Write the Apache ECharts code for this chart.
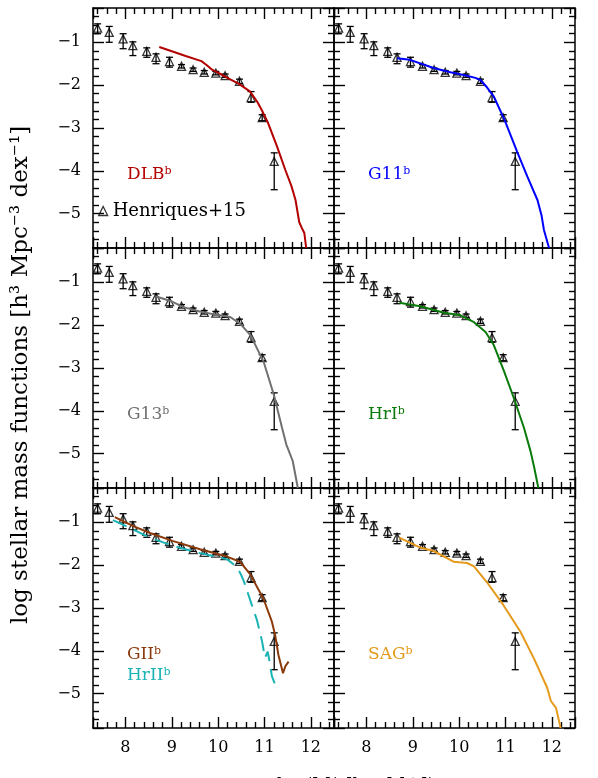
<!DOCTYPE html>
<html><head><meta charset="utf-8">
<script src="https://cdn.jsdelivr.net/npm/echarts@6/dist/echarts.min.js"></script>
<style>html,body{margin:0;padding:0;background:#fff}#c{width:598px;height:778px}</style>
</head><body><div id="c"></div>
<script>
// ---- Observations: Henriques+15 (log M*, log phi, upper, lower) ----
const obsX  = [7.40, 7.65, 7.95, 8.16, 8.46, 8.66, 8.95, 9.21, 9.46, 9.70, 9.95, 10.15, 10.46, 10.71, 10.95, 11.21];
const obsY  = [-0.67, -0.77, -0.92, -1.08, -1.21, -1.35, -1.45, -1.56, -1.64, -1.70, -1.72, -1.78, -1.91, -2.29, -2.76, -3.78];
const obsHi = [-0.57, -0.63, -0.80, -0.99, -1.13, -1.27, -1.35, -1.52, -1.60, -1.66, -1.68, -1.74, -1.86, -2.15, -2.69, -3.58];
const obsLo = [-0.80, -1.00, -1.15, -1.31, -1.35, -1.50, -1.58, -1.60, -1.68, -1.74, -1.76, -1.82, -1.96, -2.40, -2.83, -4.44];

// ---- Model curves [log M*, log phi] ----
const dlb = [[8.73,-1.11],[9.0,-1.21],[9.3,-1.32],[9.64,-1.44],[9.75,-1.53],[9.87,-1.64],[10.05,-1.74],[10.22,-1.84],[10.45,-1.97],[10.69,-2.15],[10.85,-2.40],[10.94,-2.58],[11.08,-2.89],[11.27,-3.43],[11.45,-3.98],[11.58,-4.35],[11.67,-4.68],[11.75,-5.20],[11.80,-5.32],[11.86,-5.45],[11.90,-5.8]];
const g11 = [[8.66,-1.37],[8.94,-1.41],[9.45,-1.60],[9.81,-1.70],[10.17,-1.78],[10.35,-1.83],[10.46,-1.88],[10.60,-2.05],[10.75,-2.27],[10.98,-2.81],[11.25,-3.55],[11.47,-4.13],[11.69,-4.68],[11.78,-5.05],[11.83,-5.38],[11.94,-5.8]];
const g13 = [[8.66,-1.33],[8.96,-1.43],[9.25,-1.58],[9.6,-1.68],[9.97,-1.76],[10.26,-1.81],[10.48,-1.97],[10.70,-2.24],[10.98,-2.85],[11.20,-3.62],[11.38,-4.40],[11.47,-4.78],[11.50,-4.80],[11.61,-5.17],[11.69,-5.63],[11.72,-5.8]];
const hrI = [[8.71,-1.48],[9.16,-1.56],[9.67,-1.71],[10.03,-1.77],[10.32,-1.93],[10.57,-2.16],[10.75,-2.47],[10.97,-3.08],[11.18,-3.70],[11.40,-4.40],[11.54,-4.94],[11.62,-5.32],[11.70,-5.75],[11.71,-5.8]];
const gII = [[7.77,-0.88],[8.17,-1.09],[8.53,-1.25],[9.03,-1.44],[9.61,-1.63],[10.19,-1.80],[10.47,-1.92],[10.69,-2.21],[10.98,-2.79],[11.16,-3.32],[11.23,-3.63],[11.30,-4.09],[11.40,-4.52],[11.45,-4.36],[11.52,-4.25]];
const hrII = [[7.73,-0.95],[8.17,-1.17],[8.53,-1.36],[9.03,-1.55],[9.61,-1.72],[10.19,-1.86],[10.33,-1.98],[10.47,-2.17],[10.55,-2.36],[10.73,-2.94],[10.84,-3.29],[10.95,-3.79],[11.00,-4.10],[11.01,-4.16],[11.07,-4.02],[11.10,-4.20],[11.16,-4.59],[11.27,-4.90]];
const sag = [[8.71,-1.36],[9.16,-1.59],[9.45,-1.67],[9.88,-1.92],[10.17,-1.95],[10.32,-2.03],[10.60,-2.40],[10.96,-2.94],[11.32,-3.55],[11.61,-4.17],[11.90,-4.86],[11.98,-5.17],[12.09,-5.33],[12.18,-5.75],[12.19,-5.8]];

const xRange = [7.3, 12.5];
const yRange = [-5.8, -0.2];
const yTitle = 'log stellar mass functions [h\u00B3 Mpc\u207B\u00B3 dex\u207B\u00B9]';
const xTitle = 'log(M* [h\u207B\u00B9 M\u2609])';
const obsName = 'Henriques+15';

const panels = [
  {models: [{name: 'DLB', data: dlb, color: '#b30000'}]},
  {models: [{name: 'G11', data: g11, color: '#0000ff'}]},
  {models: [{name: 'G13', data: g13, color: '#707070'}]},
  {models: [{name: 'HrI', data: hrI, color: '#0a7a0a'}]},
  {models: [{name: 'GII', data: gII, color: '#8b3a0c'}, {name: 'HrII', data: hrII, color: '#1ab3b3', dash: true}]},
  {models: [{name: 'SAG', data: sag, color: '#e59a1c'}]}
];

const FONT = 'DejaVu Serif';
const GL = 93, GT = 8, GW = 241, GH = 240;

const grids = [], xAxes = [], yAxes = [], series = [], titles = [];
const tickStyle = {color: '#000', width: 1.4};
function fmtInt(v) {
  const r = Math.round(v);
  if (Math.abs(v - r) > 1e-6) return '';
  return r < 0 ? '\u2212' + Math.abs(r) : String(r);
}
function axisBase(min, max, showLabel, margin) {
  return {
    type: 'value', min: min, max: max, splitNumber: 5,
    axisLine: {show: true, onZero: false, lineStyle: {color: '#000', width: 1.5}},
    axisTick: {show: true, inside: true, length: 11, lineStyle: tickStyle},
    minorTick: {show: true, splitNumber: 5, length: 6, lineStyle: tickStyle},
    splitLine: {show: false},
    axisLabel: {show: showLabel, formatter: fmtInt, color: '#000', fontFamily: FONT, fontSize: 16, margin: margin,
                showMinLabel: true, showMaxLabel: true}
  };
}

const obsPts = obsX.map((x, i) => [x, obsY[i]]);
const obsBars = obsX.map((x, i) => [x, obsLo[i], obsHi[i]]);

panels.forEach((p, i) => {
  const r = Math.floor(i / 2), c = i % 2;
  grids.push({left: GL + c * GW, top: GT + r * GH, width: GW, height: GH, containLabel: false});
  xAxes.push(Object.assign(axisBase(xRange[0], xRange[1], r === 2, 12), {gridIndex: i, position: 'bottom'}));
  xAxes.push(Object.assign(axisBase(xRange[0], xRange[1], false, 8), {gridIndex: i, position: 'top'}));
  yAxes.push(Object.assign(axisBase(yRange[0], yRange[1], c === 0, 12), {gridIndex: i, position: 'left'}));
  yAxes.push(Object.assign(axisBase(yRange[0], yRange[1], false, 8), {gridIndex: i, position: 'right'}));
  const xi = 2 * i, yi = 2 * i;
  series.push({
    type: 'custom', xAxisIndex: xi, yAxisIndex: yi, data: obsBars, silent: true, z: 3,
    renderItem: function (params, api) {
      const x = api.value(0);
      const a = api.coord([x, api.value(1)]);
      const b = api.coord([x, api.value(2)]);
      const cw = 3.5;
      const st = {stroke: '#000', lineWidth: 1.3};
      return {type: 'group', children: [
        {type: 'line', shape: {x1: a[0], y1: a[1], x2: b[0], y2: b[1]}, style: st},
        {type: 'line', shape: {x1: a[0] - cw, y1: a[1], x2: a[0] + cw, y2: a[1]}, style: st},
        {type: 'line', shape: {x1: b[0] - cw, y1: b[1], x2: b[0] + cw, y2: b[1]}, style: st}
      ]};
    }
  });
  series.push({
    type: 'scatter', name: obsName, xAxisIndex: xi, yAxisIndex: yi, data: obsPts, z: 4,
    symbol: 'triangle', symbolSize: 8,
    itemStyle: {color: 'rgba(0,0,0,0)', borderColor: '#000', borderWidth: 1.3}
  });
  p.models.forEach((m, k) => {
    series.push({
      type: 'line', name: m.name, xAxisIndex: xi, yAxisIndex: yi, data: m.data, z: 5,
      showSymbol: false, symbol: 'none', smooth: false,
      lineStyle: {color: m.color, width: 2, type: m.dash ? [15, 8] : 'solid'}
    });
    titles.push({
      text: '{m|' + m.name + '}{s|b}',
      left: GL + c * GW + 34, top: GT + r * GH + 158 + k * 21,
      padding: 0,
      textStyle: {fontWeight: 'normal', rich: {
        m: {color: m.color, fontFamily: FONT, fontSize: 17, fontWeight: 'normal', lineHeight: 18},
        s: {color: m.color, fontFamily: FONT, fontSize: 11, fontWeight: 'normal', verticalAlign: 'top', lineHeight: 18}
      }}
    });
  });
});

const option = {
  animation: false,
  backgroundColor: '#fff',
  grid: grids, xAxis: xAxes, yAxis: yAxes, series: series, title: titles,
  legend: {
    data: [{name: obsName, icon: 'triangle'}],
    left: 98, top: 202, itemWidth: 9, itemHeight: 9, padding: 0,
    itemStyle: {color: 'rgba(0,0,0,0)', borderColor: '#000', borderWidth: 1.3},
    textStyle: {fontFamily: FONT, fontSize: 18, color: '#000', padding: [0, 0, 0, 0]}
  },
  graphic: [
    {type: 'text', x: 21, y: 375, rotation: Math.PI / 2, z: 10,
     style: {text: yTitle, fontFamily: FONT, fontSize: 23, fill: '#000', align: 'center', verticalAlign: 'middle'}},
    {type: 'text', x: 356, y: 777, z: 10,
     style: {text: xTitle, fontFamily: FONT, fontSize: 18, fill: '#000', align: 'center', verticalAlign: 'top'}}
  ]
};
const chart = echarts.init(document.getElementById('c'));
chart.setOption(option);
</script>
</body></html>
